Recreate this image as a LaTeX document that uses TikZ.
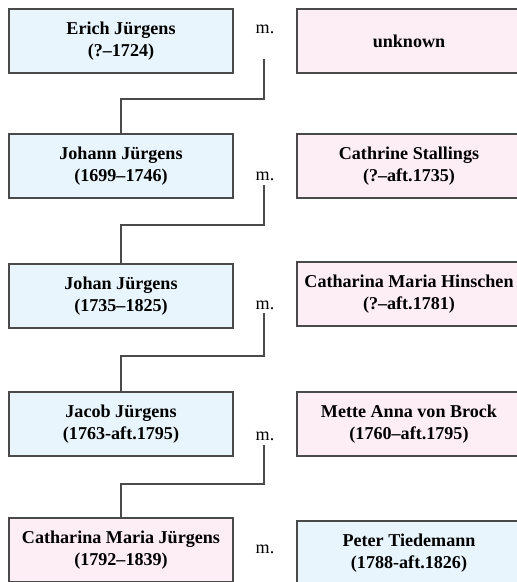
\documentclass[tikz,border=0pt]{standalone}
\usepackage{fontspec}
\setmainfont{Liberation Serif}
\usepackage{xcolor}
\usetikzlibrary{positioning, calc}
\definecolor{mblue}{HTML}{E8F5FC}
\definecolor{fpink}{HTML}{FDEDF4}
\definecolor{edge}{HTML}{4A4A4A}

\begin{document}
\begin{tikzpicture}[x=0.02cm,y=-0.02cm]
\tikzset{
  pb/.style={rectangle,draw=edge,line width=0.6pt,fill=mblue,minimum width=4.48cm,minimum height=1.28cm,align=center,inner sep=1pt,font=\fontsize{10.3}{12.5}\selectfont\bfseries},
  pp/.style={pb,fill=fpink},
  ml/.style={font=\fontsize{10.3}{12.5}\selectfont,inner sep=1pt},
  ln/.style={draw=edge,line width=0.6pt}
}
\clip (0,0) rectangle (517,582);
% left column: the Juergens line
\node[pb] (erich) at (121,41) {Erich Jürgens\\(?--1724)};
\node[pb] (johann) at (121,166) {Johann Jürgens\\(1699--1746)};
\node[pb] (johan) at (121,296) {Johan Jürgens\\(1735--1825)};
\node[pb] (jacob) at (121,424) {Jacob Jürgens\\(1763-aft.1795)};
\node[pp] (cathj) at (121,550) {Catharina Maria Jürgens\\(1792--1839)};
% right column: spouses
\node[pp] (unkn) at (409,41) {unknown};
\node[pp] (cathr) at (409,166) {Cathrine Stallings\\(?--aft.1735)};
\node[pp] (cathh) at (409,294) {Catharina Maria Hinschen\\(?--aft.1781)};
\node[pp] (mette) at (409,424) {Mette Anna von Brock\\(1760--aft.1795)};
\node[pb] (peter) at (409,553) {Peter Tiedemann\\(1788-aft.1826)};
% marriages
\node[ml] (m1) at (265,29) {m.};
\node[ml] (m2) at (265,176) {m.};
\node[ml] (m3) at (265,305) {m.};
\node[ml] (m4) at (265,436) {m.};
\node[ml] (m5) at (265,549) {m.};
\coordinate (c1) at (264,59); \coordinate (c2) at (264,185);
\coordinate (c3) at (264,313); \coordinate (c4) at (264,445);
\draw[ln] (c1) -- ++(0,40) -| (johann.north);
\draw[ln] (c2) -- ++(0,40) -| (johan.north);
\draw[ln] (c3) -- ++(0,43) -| (jacob.north);
\draw[ln] (c4) -- ++(0,39) -| (cathj.north);
\end{tikzpicture}
\end{document}
